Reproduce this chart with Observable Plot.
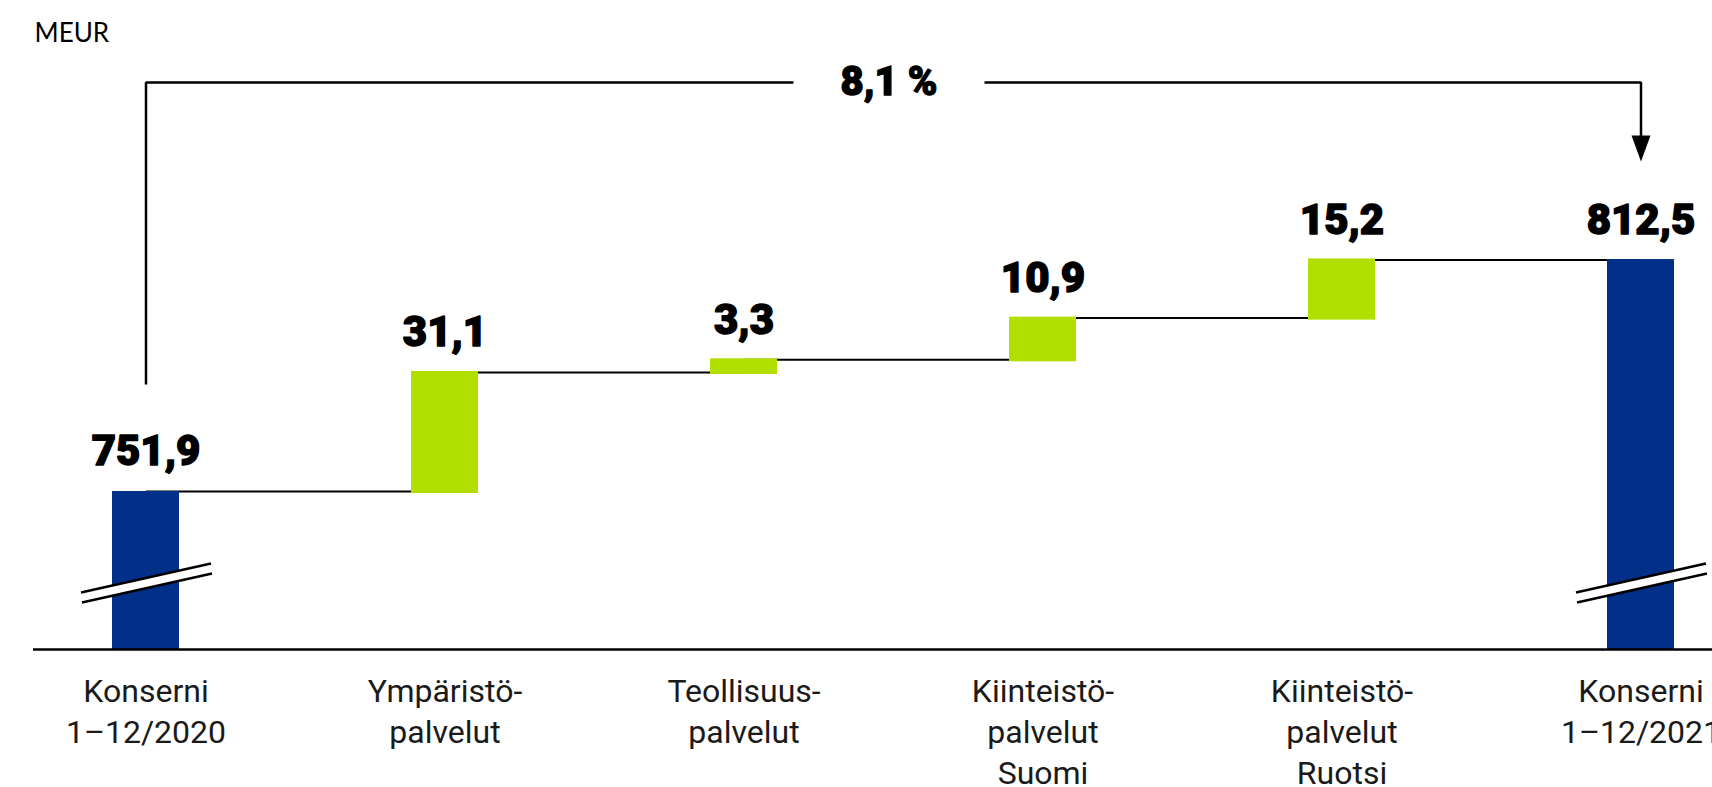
<!DOCTYPE html>
<html><head><meta charset="utf-8">
<script src="https://cdn.jsdelivr.net/npm/d3@7"></script>
<script src="https://cdn.jsdelivr.net/npm/@observablehq/plot@0.6"></script>
<style>html,body{margin:0;padding:0;background:#fff;overflow:hidden}</style>
</head><body><div id="chart"></div>
<script>
// ---- data ----
const categories = ["Konserni 1–12/2020", "Ympäristöpalvelut", "Teollisuuspalvelut", "Kiinteistöpalvelut Suomi", "Kiinteistöpalvelut Ruotsi", "Konserni 1–12/2021"];
const tickLabels = ["Konserni\n1–12/2020", "Ympäristö-\npalvelut", "Teollisuus-\npalvelut", "Kiinteistö-\npalvelut\nSuomi", "Kiinteistö-\npalvelut\nRuotsi", "Konserni\n1–12/2021"];
const values = [751.9, 31.1, 3.3, 10.9, 15.2, 812.5];
const valueLabels = ["751,9", "31,1", "3,3", "10,9", "15,2", "812,5"];
const kinds = ["total", "delta", "delta", "delta", "delta", "total"];
const changeLabel = "8,1 %";
const unitLabel = "MEUR";

// ---- layout ----
const W = 1712, H = 787;
const mL = 33, mR = 0, mT = 0, mB = 138;
const yDomain = [710.6, 880.2];
const k = (H - mT - mB) / (yDomain[1] - yDomain[0]); // px per MEUR
const BLUE = "#022F87", GREEN = "#B1DF00";

// waterfall rows
let cum = 0;
const rows = categories.map((cat, i) => {
  let y1, y2;
  if (kinds[i] === "total") { y1 = yDomain[0]; y2 = values[i]; cum = values[i]; }
  else { y1 = cum; y2 = cum + values[i]; cum = y2; }
  return {cat, tick: tickLabels[i], label: valueLabels[i], y1, y2, level: cum, kind: kinds[i]};
});
const links = rows.slice(0, -1).map((r, i) => ({a: r.cat, b: rows[i + 1].cat, level: r.level}));
const totals = rows.filter(r => r.kind === "total");
const deltas = rows.filter(r => r.kind === "delta");
const startV = values[0], endV = values[values.length - 1];

// custom symbols
const breakBand = {draw(c) { c.moveTo(-66, 9.5); c.lineTo(66, -19.5); c.lineTo(66, -9.5); c.lineTo(-66, 19.5); c.closePath(); }};
const breakLines = {draw(c) { c.moveTo(-65, 9.5); c.lineTo(65, -19.5); c.moveTo(-64, 19.5); c.lineTo(66, -9.5); }};
const arrowHead = {draw(c) { c.moveTo(-9.5, -26); c.lineTo(9.5, -26); c.lineTo(0, 0); c.closePath(); }};
const labelGap = {draw(c) { c.rect(-95.5, -6, 191, 12); }};

const bracketTop = endV + 177 / k;
const bracket = [
  {x: categories[0], y: startV + 107 / k},
  {x: categories[0], y: bracketTop},
  {x: categories[5], y: bracketTop},
  {x: categories[5], y: endV + 122 / k}
];

const chart = Plot.plot({
  width: W, height: H,
  marginLeft: mL, marginRight: mR, marginTop: mT, marginBottom: mB,
  style: {fontFamily: "Roboto, 'Noto Sans', sans-serif", background: "white", overflow: "visible"},
  x: {type: "band", domain: categories, paddingInner: 1 - 67 / 299, paddingOuter: 0, insetLeft: 79, insetRight: 38, axis: null},
  y: {domain: yDomain, axis: null},
  marks: [
    Plot.link(links, {x1: "a", x2: "b", y1: "level", y2: "level", stroke: "black", strokeWidth: 2}),
    Plot.barY(totals, {x: "cat", y1: "y1", y2: "y2", fill: BLUE}),
    Plot.barY(deltas, {x: "cat", y1: "y1", y2: "y2", fill: GREEN, insetBottom: -2, insetTop: -1}),
    Plot.ruleY([yDomain[0]], {stroke: "black", strokeWidth: 2.5}),
    Plot.dot(totals, {x: "cat", y: () => yDomain[0] + 66.5 / k, r: 5, symbol: breakBand, fill: "white", stroke: "none"}),
    Plot.dot(totals, {x: "cat", y: () => yDomain[0] + 66.5 / k, r: 5, symbol: breakLines, fill: "none", stroke: "black", strokeWidth: 2.5}),
    Plot.text(rows, {x: "cat", y: "y2", text: "label", lineAnchor: "bottom", dy: -26, fontSize: 42, fontWeight: 900, fill: "black", stroke: "black", strokeWidth: 1.4}),
    Plot.text(rows, {x: "cat", frameAnchor: "bottom", text: "tick", lineAnchor: "top", dy: 24, fontSize: 32, lineHeight: 1.27, fill: "#1a1a1a"}),
    Plot.line(bracket, {x: "x", y: "y", stroke: "black", strokeWidth: 2.5, strokeLinejoin: "miter", strokeLinecap: "butt"}),
    Plot.dot([arrowHead], {x: [categories[5]], y: [endV + 98 / k], r: 5, symbol: arrowHead, fill: "black", stroke: "none"}),
    Plot.dot([changeLabel], {x: [categories[2]], y: [bracketTop], dx: 145, r: 5, symbol: labelGap, fill: "white", stroke: "none"}),
    Plot.text([changeLabel], {x: [categories[2]], y: [bracketTop], dx: 145, text: d => d, lineAnchor: "middle", fontSize: 40, fontWeight: 900, fill: "black", stroke: "black", strokeWidth: 1.3}),
    Plot.text([unitLabel], {frameAnchor: "top-left", text: d => d, textAnchor: "start", lineAnchor: "top", dx: 1, dy: 23, fontSize: 26, fontFamily: "Lato, sans-serif", fill: "black"})
  ]
});
document.getElementById("chart").appendChild(chart);
</script>
</body></html>
